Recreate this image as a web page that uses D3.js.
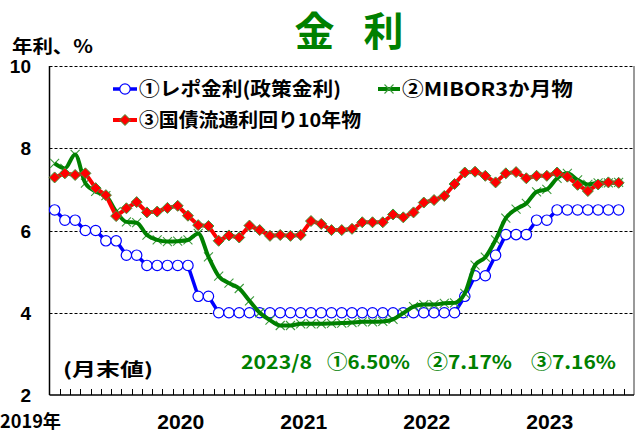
<!DOCTYPE html>
<html>
<head>
<meta charset="utf-8">
<script src="https://cdn.jsdelivr.net/npm/d3@7"></script>
<style>
  body { margin: 0; background: #fff; }
  svg { display: block; }
  .jp { font-family: 'Noto Sans CJK JP', sans-serif; font-weight: bold; }
  .num { font-family: 'Liberation Sans', Arial, sans-serif; font-weight: bold; }
</style>
</head>
<body>
<div id="chart"></div>
<script>
// --- data (month-end values, Jan 2019 .. Aug 2023) ---
const startYear = 2019;
const slotCount = 57; // Jan 2019 .. Sep 2023 on the axis
const yearLabels = ['2019年', '2020', '2021', '2022', '2023'];
const yTicks = [2, 4, 6, 8, 10];
const gridValues = [4, 6, 8];

const repoRate = [
  6.50, 6.25, 6.25, 6.00, 6.00, 5.75, 5.75, 5.40, 5.40, 5.15, 5.15, 5.15,
  5.15, 5.15, 4.40, 4.40, 4.00, 4.00, 4.00, 4.00, 4.00, 4.00, 4.00, 4.00,
  4.00, 4.00, 4.00, 4.00, 4.00, 4.00, 4.00, 4.00, 4.00, 4.00, 4.00, 4.00,
  4.00, 4.00, 4.00, 4.00, 4.40, 4.90, 4.90, 5.40, 5.90, 5.90, 5.90, 6.25,
  6.25, 6.50, 6.50, 6.50, 6.50, 6.50, 6.50, 6.50
];
const mibor3m = [
  7.63, 7.51, 7.85, 7.15, 6.95, 6.85, 6.46, 6.21, 6.19, 5.89, 5.77, 5.73,
  5.74, 5.77, 5.93, 5.36, 4.89, 4.72, 4.59, 4.29, 4.00, 3.82, 3.69, 3.69,
  3.73, 3.73, 3.73, 3.74, 3.75, 3.76, 3.78, 3.78, 3.79, 3.84, 3.99, 4.15,
  4.20, 4.20, 4.23, 4.24, 4.47, 5.16, 5.35, 5.77, 6.30, 6.52, 6.66, 6.94,
  7.00, 7.27, 7.39, 7.23, 7.12, 7.16, 7.16, 7.17
];
const gsec10y = [
  7.29, 7.39, 7.35, 7.39, 7.03, 6.86, 6.35, 6.54, 6.69, 6.44, 6.46, 6.55,
  6.60, 6.36, 6.13, 6.11, 5.75, 5.88, 5.83, 6.12, 6.01, 5.87, 5.89, 5.87,
  5.89, 6.23, 6.16, 6.01, 6.01, 6.04, 6.20, 6.20, 6.20, 6.39, 6.32, 6.44,
  6.68, 6.74, 6.84, 7.13, 7.41, 7.43, 7.33, 7.17, 7.39, 7.42, 7.27, 7.33,
  7.33, 7.41, 7.31, 7.11, 6.96, 7.12, 7.17, 7.16
];

const W = 635, H = 434;
const plot = { left: 49.5, right: 634, top: 66, bottom: 395 };

const months = d3.range(slotCount).map(i => `${startYear + Math.floor(i / 12)}-${(i % 12) + 1}`);
const x = d3.scaleBand().domain(months).range([plot.left, plot.right]).paddingInner(0).paddingOuter(0);
const y = d3.scaleLinear().domain([2, 10]).range([plot.bottom, plot.top]);
const cx = i => x(months[i]) + x.bandwidth() / 2;

const svg = d3.select('#chart').append('svg').attr('width', W).attr('height', H);

// --- title & labels ---
svg.append('text').attr('class', 'jp').attr('x', 314.5).attr('y', 46)
  .attr('text-anchor', 'middle').attr('font-size', 40).attr('fill', '#008000').text('金');
svg.append('text').attr('class', 'jp').attr('x', 383.5).attr('y', 46)
  .attr('text-anchor', 'middle').attr('font-size', 40).attr('fill', '#008000').text('利');
svg.append('text').attr('class', 'jp').attr('x', 12).attr('y', 53)
  .attr('font-size', 18).attr('textLength', 81).attr('lengthAdjust', 'spacingAndGlyphs').text('年利、%');

// --- grid & frame ---
const g = svg.append('g');
g.selectAll('.grid').data(gridValues.concat([10])).join('line')
  .attr('x1', plot.left).attr('x2', plot.right)
  .attr('y1', d => Math.round(y(d)) + 0.5).attr('y2', d => Math.round(y(d)) + 0.5)
  .attr('stroke', '#000').attr('stroke-width', 1).attr('stroke-dasharray', '3,2');
g.append('line').attr('x1', plot.right).attr('x2', plot.right).attr('y1', plot.top).attr('y2', plot.bottom)
  .attr('stroke', '#777').attr('stroke-width', 1.5);
g.append('line').attr('x1', plot.left).attr('x2', plot.left).attr('y1', plot.top).attr('y2', plot.bottom)
  .attr('stroke', '#000').attr('stroke-width', 1.5);
g.append('line').attr('x1', plot.left).attr('x2', plot.right).attr('y1', plot.bottom).attr('y2', plot.bottom)
  .attr('stroke', '#000').attr('stroke-width', 1.5);

// month ticks (inside, at band edges)
g.selectAll('.tick').data(months.slice(1)).join('line')
  .attr('x1', d => Math.round(x(d)) + 0.5).attr('x2', d => Math.round(x(d)) + 0.5)
  .attr('y1', plot.bottom).attr('y2', plot.bottom - 6)
  .attr('stroke', '#000').attr('stroke-width', 1);

// y tick labels
svg.selectAll('.ylab').data(yTicks).join('text').attr('class', 'num')
  .attr('x', 31).attr('y', d => y(d) + 7).attr('text-anchor', 'end')
  .attr('font-size', 19).text(d => d);

// year labels
svg.selectAll('.xlab').data(yearLabels).join('text')
  .attr('class', (d, i) => i === 0 ? 'jp' : 'num')
  .attr('x', (d, i) => i === 0 ? 0 : cx(i * 12) + 3)
  .attr('y', (d, i) => i === 0 ? 428 : 429)
  .attr('text-anchor', (d, i) => i === 0 ? 'start' : 'middle')
  .attr('font-size', (d, i) => i === 0 ? 18 : 20)
  .attr('textLength', (d, i) => i === 0 ? 61 : 47).attr('lengthAdjust', 'spacingAndGlyphs')
  .text(d => d);

// --- series ---
const line = d3.line().x((d, i) => cx(i)).y(d => y(d));

svg.append('path').datum(repoRate).attr('d', line)
  .attr('fill', 'none').attr('stroke', '#0000ff').attr('stroke-width', 3.5);
svg.selectAll('.repo').data(repoRate).join('circle')
  .attr('cx', (d, i) => cx(i)).attr('cy', d => y(d)).attr('r', 5.2)
  .attr('fill', '#fff').attr('stroke', '#0000ff').attr('stroke-width', 1.2);

const crossPath = (px, py, s) => `M${px - s},${py - s}L${px + s},${py + s}M${px - s},${py + s}L${px + s},${py - s}`;
svg.selectAll('.mibor').data(mibor3m).join('path')
  .attr('d', (d, i) => crossPath(cx(i), y(d), 4.5))
  .attr('stroke', '#3c9a3c').attr('stroke-width', 1.1).attr('fill', 'none');
svg.append('path').datum(mibor3m).attr('d', line.curve(d3.curveMonotoneX))
  .attr('fill', 'none').attr('stroke', '#008000').attr('stroke-width', 4);
line.curve(d3.curveLinear);

svg.append('path').datum(gsec10y).attr('d', line)
  .attr('fill', 'none').attr('stroke', '#ff0000').attr('stroke-width', 4);
const diamond = (px, py, s) => `M${px},${py - s}L${px + s},${py}L${px},${py + s}L${px - s},${py}Z`;
svg.selectAll('.gsec').data(gsec10y).join('path')
  .attr('d', (d, i) => diamond(cx(i), y(d), 5.5))
  .attr('fill', '#ff0000').attr('stroke', '#3c9a3c').attr('stroke-width', 1);

// --- legend ---
const leg = svg.append('g');
leg.append('line').attr('x1', 113).attr('x2', 137).attr('y1', 89).attr('y2', 89)
  .attr('stroke', '#0000ff').attr('stroke-width', 3.5);
leg.append('circle').attr('cx', 125).attr('cy', 89).attr('r', 5.2)
  .attr('fill', '#fff').attr('stroke', '#0000ff').attr('stroke-width', 1.2);
leg.append('text').attr('class', 'jp').attr('x', 139).attr('y', 96).attr('font-size', 19)
  .attr('textLength', 202).attr('lengthAdjust', 'spacingAndGlyphs').text('①レポ金利(政策金利)');

leg.append('line').attr('x1', 378).attr('x2', 400).attr('y1', 89).attr('y2', 89)
  .attr('stroke', '#008000').attr('stroke-width', 4);
leg.append('path').attr('d', crossPath(389, 89, 4.5))
  .attr('stroke', '#3c9a3c').attr('stroke-width', 1.1);
leg.append('text').attr('class', 'jp').attr('x', 402).attr('y', 96).attr('font-size', 19)
  .attr('textLength', 171).attr('lengthAdjust', 'spacingAndGlyphs').text('②MIBOR3か月物');

leg.append('line').attr('x1', 113).attr('x2', 137).attr('y1', 120).attr('y2', 120)
  .attr('stroke', '#ff0000').attr('stroke-width', 4);
leg.append('path').attr('d', diamond(125, 120, 5.5))
  .attr('fill', '#ff0000').attr('stroke', '#3c9a3c').attr('stroke-width', 1);
leg.append('text').attr('class', 'jp').attr('x', 139).attr('y', 127).attr('font-size', 19)
  .attr('textLength', 222).attr('lengthAdjust', 'spacingAndGlyphs').text('③国債流通利回り10年物');

// --- notes ---
svg.append('text').attr('class', 'jp').attr('x', 63).attr('y', 376).attr('font-size', 18)
  .attr('textLength', 90).attr('lengthAdjust', 'spacingAndGlyphs').text('(月末値)');

const notes = [
  { t: '2023/8', x0: 241, w: 71 },
  { t: '①6.50%', x0: 327, w: 83 },
  { t: '②7.17%', x0: 427, w: 85 },
  { t: '③7.16%', x0: 531, w: 85 }
];
svg.selectAll('.note').data(notes).join('text').attr('class', 'jp')
  .attr('x', d => d.x0).attr('y', 369).attr('font-size', 19).attr('fill', '#008000')
  .attr('textLength', d => d.w).attr('lengthAdjust', 'spacingAndGlyphs').text(d => d.t);
</script>
</body>
</html>
